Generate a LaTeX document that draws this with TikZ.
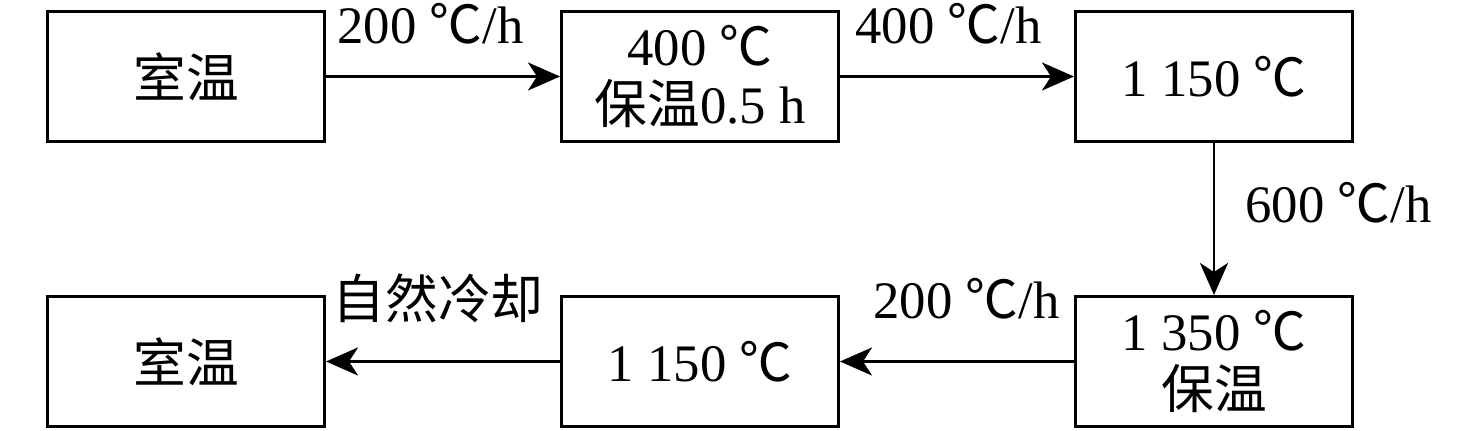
\documentclass[tikz,border=0pt]{standalone}
\usepackage{fontspec}
\setmainfont{Liberation Serif}
\newfontfamily\cjk{Noto Sans CJK SC}
\usetikzlibrary{positioning,arrows.meta}
\newcommand{\gradC}{{\cjk ℃}}
\tikzset{
>={Stealth[length=3.2mm,width=2.8mm,inset=0.9mm]},
kasten/.style={ rectangle, draw=black, line width=0.85pt, minimum width=2.77cm, minimum height=1.30cm, inner sep=0pt, text centered, align=center, font=\fontsize{15}{16.5}\selectfont},
line/.style={draw, line width=0.85pt, ->},
rate/.style={font=\fontsize{15}{16.5}\selectfont, inner sep=0pt},
}
\begin{document}
\begin{tikzpicture}
[node distance=2.34cm]
\useasboundingbox (0,0) rectangle (14.76,4.30);

\node[kasten] (raum) at (1.86,3.535) {\cjk 室温};
\node[kasten, right=of raum] (halt) {400 \gradC\\{\cjk 保温}0.5 h};
\node[kasten, right=of halt] (hoch) {1 150 \gradC};
\node[kasten, below=1.52cm of hoch] (spitze) {1 350 \gradC\\{\cjk 保温}};
\node[kasten, left=of spitze] (mittel) {1 150 \gradC};
\node[kasten, left=of mittel] (ende) {\cjk 室温};

% heizen
\path [line] (raum) -- node[rate, pos=0, anchor=base west, xshift=0.1cm, yshift=0.33cm] (r1) {200 \gradC/h} (halt);
\path [line] (halt) -- node[rate, pos=0, anchor=base west, xshift=0.14cm, yshift=0.33cm] (r2) {400 \gradC/h} (hoch);
\path [line] (hoch) -- node[rate, pos=0.5, anchor=base west, xshift=0.3cm, yshift=-0.04cm] (r3) {600 \gradC/h} (spitze);

% abkuehlen
\path [line] (spitze) -- node[rate, pos=0, anchor=base east, xshift=-0.13cm, yshift=0.43cm] (r4) {200 \gradC/h} (mittel);
\path [line] (mittel) -- node[rate, pos=0, anchor=base east, xshift=-0.15cm, yshift=0.43cm] (r5) {\cjk 自然冷却} (ende);

\end{tikzpicture}
\end{document}
